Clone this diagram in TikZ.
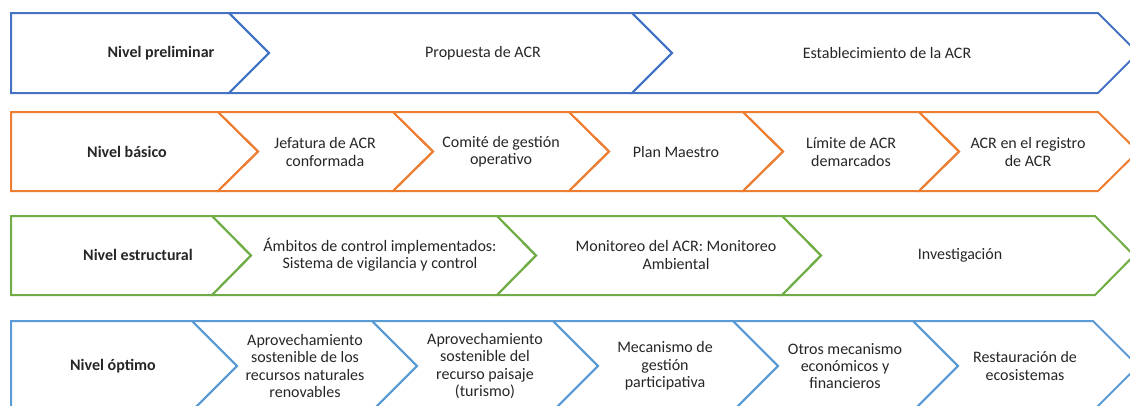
\documentclass[tikz,border=0pt]{standalone}
\usepackage{fontspec}
\setmainfont{Carlito}
\usetikzlibrary{positioning}

\definecolor{azul}{HTML}{4472C4}
\definecolor{naranja}{HTML}{ED7D31}
\definecolor{verde}{HTML}{70AD47}
\definecolor{celeste}{HTML}{5B9BD5}

\tikzset{
	etiqueta/.style={align=center, inner sep=0pt, text=black!85, font=\fontsize{12}{13}\selectfont},
	nivel/.style={etiqueta, font=\fontsize{12}{13}\selectfont\bfseries},
}

\begin{document}
\begin{tikzpicture}[x=0.75pt, y=-0.75pt, line width=1.5pt]
				
				\clip (0,0) rectangle (1130,405);
				
				% geometry: #1 left, #2 right, #3 top, #4 bottom, #5 depth, #6 colour
				\newcommand{\nivelbox}[6]{%
					\path[draw=#6, line join=miter]
					(#1,#3) -- (#2,#3) -- (#2+#5,{(#3+#4)/2}) -- (#2,#4) -- (#1,#4) -- cycle;
				}
				\newcommand{\etapa}[6]{%
					\path[draw=#6, line join=miter]
					(#1,#3) -- (#2,#3) -- (#2+#5,{(#3+#4)/2}) -- (#2,#4) -- (#1,#4) -- (#1+#5,{(#3+#4)/2}) -- cycle;
				}
				
				% nivel preliminar
				\nivelbox{11}{229}{13}{93}{40}{azul}
				\etapa{229}{632}{13}{93}{40}{azul}
				\etapa{632}{1098}{13}{93}{40}{azul}
				\node[nivel] (pre) at (161,53) {Nivel preliminar};
				\node[etiqueta] (pre1) at (483,53) {Propuesta de ACR};
				\node[etiqueta] (pre2) at (887,53) {Establecimiento de la ACR};
				
				% nivel basico
				\nivelbox{11}{218}{112}{191}{40}{naranja}
				\etapa{218}{393}{112}{191}{40}{naranja}
				\etapa{393}{569}{112}{191}{40}{naranja}
				\etapa{569}{743}{112}{191}{40}{naranja}
				\etapa{743}{919}{112}{191}{40}{naranja}
				\etapa{919}{1098}{112}{191}{40}{naranja}
				\node[nivel] (bas) at (127,152) {Nivel básico};
				\node[etiqueta] (bas1) at (325,152) {Jefatura de ACR\\conformada};
				\node[etiqueta] (bas2) at (501,152) {Comité de gestión\\operativo};
				\node[etiqueta] (bas3) at (676,152) {Plan Maestro};
				\node[etiqueta] (bas4) at (851,152) {Límite de ACR\\demarcados};
				\node[etiqueta] (bas5) at (1028,152) {ACR en el registro\\de ACR};
				
				% nivel estructural
				\nivelbox{11}{212}{216}{295}{39}{verde}
				\etapa{212}{497}{216}{295}{39}{verde}
				\etapa{497}{782}{216}{295}{39}{verde}
				\etapa{782}{1095}{216}{295}{39}{verde}
				\node[nivel] (est) at (138,255) {Nivel estructural};
				\node[etiqueta] (est1) at (380,255) {Ámbitos de control implementados:\\Sistema de vigilancia y control};
				\node[etiqueta] (est2) at (676,255) {Monitoreo del ACR: Monitoreo\\Ambiental};
				\node[etiqueta] (est3) at (960,255) {Investigación};
				
				% nivel optimo
				\nivelbox{11}{192}{321}{411}{45}{celeste}
				\etapa{192}{372}{321}{411}{45}{celeste}
				\etapa{372}{553}{321}{411}{45}{celeste}
				\etapa{553}{733}{321}{411}{45}{celeste}
				\etapa{733}{913}{321}{411}{45}{celeste}
				\etapa{913}{1093}{321}{411}{45}{celeste}
				\node[nivel] (opt) at (113,366) {Nivel óptimo};
				\node[etiqueta] (opt1) at (305,366) {Aprovechamiento\\sostenible de los\\recursos naturales\\renovables};
				\node[etiqueta] (opt2) at (485,366) {Aprovechamiento\\sostenible del\\recurso paisaje\\(turismo)};
				\node[etiqueta] (opt3) at (665,366) {Mecanismo de\\gestión\\participativa};
				\node[etiqueta] (opt4) at (845,366) {Otros mecanismo\\económicos y\\financieros};
				\node[etiqueta] (opt5) at (1025,366) {Restauración de\\ecosistemas};
				
			\end{tikzpicture}
\end{document}
